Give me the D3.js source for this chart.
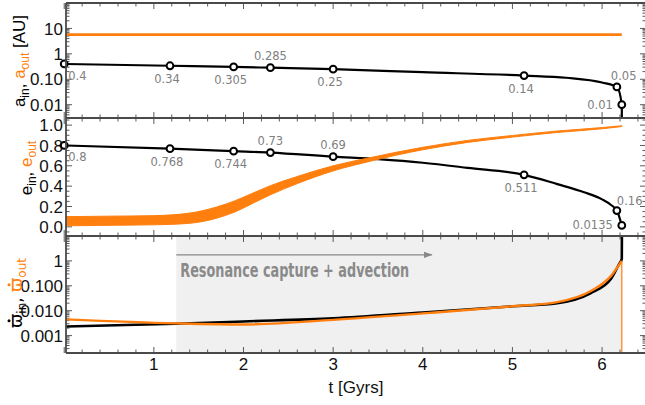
<!DOCTYPE html>
<html>
<head>
<meta charset="utf-8">
<script src="https://cdn.jsdelivr.net/npm/d3@7"></script>
<style>
  body { margin: 0; background: #fff; }
  svg { display: block; }
</style>
</head>
<body>
<div id="chart"></div>
<script>
// ---- DATA ----
// marked epochs (Gyr) and the labelled values at them
const markTimes = [0, 1.18, 1.89, 2.3, 3.0, 5.13, 6.165, 6.22];
const aInMarks = [0.4, 0.34, 0.305, 0.285, 0.25, 0.14, 0.05, 0.01];
const aInLabels = ["0.4", "0.34", "0.305", "0.285", "0.25", "0.14", "0.05", "0.01"];
const eInMarks = [0.8, 0.768, 0.744, 0.73, 0.69, 0.511, 0.16, 0.0135];
const eInLabels = ["0.8", "0.768", "0.744", "0.73", "0.69", "0.511", "0.16", "0.0135"];

// inner semi-major axis curve
const aInT = [0, 1.18, 1.89, 2.3, 3.0, 4.0, 5.13, 5.6, 6.0, 6.165, 6.22, 6.221];
const aInV = [0.4, 0.34, 0.305, 0.285, 0.25, 0.19, 0.14, 0.115, 0.075, 0.05, 0.01, 0.0005];
// outer semi-major axis (constant)
const aOutT = [0, 6.22];
const aOutV = [5.7, 5.7];

// inner eccentricity curve
const eInT = [0, 1.18, 1.89, 2.3, 3.0, 3.5, 4.0, 4.5, 5.13, 5.5, 5.8, 6.0, 6.1, 6.165, 6.22];
const eInV = [0.8, 0.768, 0.744, 0.73, 0.69, 0.665, 0.63, 0.58, 0.511, 0.42, 0.34, 0.27, 0.215, 0.16, 0.0135];
// outer eccentricity: oscillation envelope (low / high)
const eOutT = [0, 0.5, 1.0, 1.4, 1.7, 1.9, 2.1, 2.3, 2.6, 3.0, 3.4, 4.0, 4.5, 5.0, 5.5, 6.0, 6.22];
const eOutLo = [0.01, 0.015, 0.02, 0.035, 0.085, 0.145, 0.23, 0.315, 0.425, 0.55, 0.642, 0.758, 0.83, 0.882, 0.928, 0.964, 0.986];
const eOutHi = [0.1, 0.105, 0.11, 0.135, 0.195, 0.255, 0.33, 0.405, 0.495, 0.6, 0.678, 0.782, 0.85, 0.898, 0.942, 0.976, 0.994];

// precession rates
const wInT = [0, 1.25, 2.0, 3.0, 4.0, 5.0, 5.5, 5.87, 6.1, 6.19, 6.22, 6.222];
const wInV = [0.0023, 0.003, 0.0037, 0.0049, 0.0085, 0.015, 0.02, 0.05, 0.19, 0.75, 1.2, 30];
const wOutT = [0, 1.25, 2.0, 3.0, 4.0, 5.0, 5.5, 5.87, 6.1, 6.19, 6.22];
const wOutV = [0.0045, 0.0031, 0.0028, 0.0043, 0.0078, 0.015, 0.022, 0.06, 0.25, 0.7, 1.0];
const wOutDropT = [6.22, 6.22];
const wOutDropV = [1.0, 0.0001];

// resonance capture window
const captureStart = 1.25;
const captureEnd = 6.22;
const arrowEnd = 4.1;

// axis ticks
const xTicks = [1, 2, 3, 4, 5, 6];
const aTicks = [0.01, 0.1, 1, 10];
const aTickLabels = ["0.01", "0.10", "1", "10"];
const eTicks = [0, 0.2, 0.4, 0.6, 0.8, 1.0];
const eTickLabels = ["0.0", "0.2", "0.4", "0.6", "0.8", "1.0"];
const wTicks = [0.001, 0.01, 0.1, 1];
const wTickLabels = ["0.001", "0.010", "0.100", "1"];

// label placement keywords (styling, not data)
const aLabelPos = ["br", "b", "b", "t", "b", "b", "tr", "l"];
const eLabelPos = ["br", "b", "b", "t", "t", "b", "r", "l"];

// ---- LAYOUT ----
const width = 645, height = 405;
const left = 66, right = 646;
const orange = "#ff7f0e";
const frameColor = "#4a4a4a";
const tickFont = "'Liberation Sans', Arial, sans-serif";

const svg = d3.select("#chart").append("svg")
  .attr("width", width).attr("height", height)
  .attr("viewBox", `0 0 ${width} ${height}`);

const x = d3.scaleLinear().domain([0.02, 6.49]).range([left, right]);
const yA = d3.scaleLog().domain([0.003, 100]).range([118, 3]);
const yE = d3.scaleLinear().domain([-0.09, 1.07]).range([236, 118]);
const yW = d3.scaleLog().domain([0.0002, 10]).range([353, 236]);

const panels = [
  { id: "pA", y: yA, ticks: aTicks, labels: aTickLabels, log: true },
  { id: "pE", y: yE, ticks: eTicks, labels: eTickLabels, log: false },
  { id: "pW", y: yW, ticks: wTicks, labels: wTickLabels, log: true },
];

const defs = svg.append("defs");
panels.forEach((p) => {
  const [b, t] = p.y.range();
  defs.append("clipPath").attr("id", "clip_" + p.id)
    .append("rect").attr("x", left).attr("y", t).attr("width", right - left).attr("height", b - t);
});
defs.append("marker").attr("id", "arrow").attr("viewBox", "0 0 10 10")
  .attr("refX", 9).attr("refY", 5).attr("markerWidth", 7).attr("markerHeight", 7)
  .attr("orient", "auto")
  .append("path").attr("d", "M0,1.5 L10,5 L0,8.5 Z").attr("fill", "#888");

// shaded capture region (bottom panel)
svg.append("rect")
  .attr("x", x(captureStart)).attr("y", yW.range()[1])
  .attr("width", x(captureEnd) - x(captureStart))
  .attr("height", yW.range()[0] - yW.range()[1])
  .attr("fill", "#f0f0f0");

// ---- TICKS ----
const minorX = d3.range(0, 6.5, 0.2).filter((t) => Math.abs(t - Math.round(t)) > 0.01);
const tickG = svg.append("g").attr("stroke", "#5a5a5a").attr("stroke-width", 1);

panels.forEach((p) => {
  const [b, t] = p.y.range();
  // x ticks top & bottom of each panel
  d3.range(0, 7).forEach((v) => {
    tickG.append("line").attr("x1", x(v)).attr("x2", x(v)).attr("y1", t).attr("y2", t + 6);
    tickG.append("line").attr("x1", x(v)).attr("x2", x(v)).attr("y1", b).attr("y2", b - 6);
  });
  minorX.forEach((v) => {
    tickG.append("line").attr("x1", x(v)).attr("x2", x(v)).attr("y1", t).attr("y2", t + 3.5);
    tickG.append("line").attr("x1", x(v)).attr("x2", x(v)).attr("y1", b).attr("y2", b - 3.5);
  });
  // y minor ticks
  let minors = [];
  if (p.log) {
    const [lo, hi] = p.y.domain();
    for (let e = -5; e <= 2; e++) {
      for (let m = 2; m <= 9; m++) {
        const v = m * Math.pow(10, e);
        if (v > lo && v < hi) minors.push(v);
      }
    }
  } else {
    minors = d3.range(-0.05, 1.07, 0.05).filter((v) => Math.abs(v * 5 - Math.round(v * 5)) > 0.01);
  }
  minors.forEach((v) => {
    tickG.append("line").attr("x1", left).attr("x2", left + 3.5).attr("y1", p.y(v)).attr("y2", p.y(v));
    tickG.append("line").attr("x1", right).attr("x2", right - 3.5).attr("y1", p.y(v)).attr("y2", p.y(v));
  });
  p.ticks.forEach((v, i) => {
    tickG.append("line").attr("x1", left).attr("x2", left + 6).attr("y1", p.y(v)).attr("y2", p.y(v));
    tickG.append("line").attr("x1", right).attr("x2", right - 6).attr("y1", p.y(v)).attr("y2", p.y(v));
    svg.append("text")
      .attr("x", left - 3).attr("y", p.y(v)).attr("dy", "0.36em")
      .attr("text-anchor", "end")
      .attr("font-family", tickFont).attr("font-size", 17).attr("fill", "#111")
      .text(p.labels[i]);
  });
});

// x tick labels
xTicks.forEach((v) => {
  svg.append("text")
    .attr("x", x(v)).attr("y", 370).attr("text-anchor", "middle")
    .attr("font-family", tickFont).attr("font-size", 17).attr("fill", "#111")
    .text(v);
});
svg.append("text")
  .attr("x", 356).attr("y", 393).attr("text-anchor", "middle")
  .attr("font-family", tickFont).attr("font-size", 17).attr("fill", "#111")
  .text("t [Gyrs]");

// ---- ANNOTATION ----
svg.append("line")
  .attr("x1", x(captureStart)).attr("x2", x(arrowEnd))
  .attr("y1", yW(1.75)).attr("y2", yW(1.75))
  .attr("stroke", "#888").attr("stroke-width", 1.3)
  .attr("marker-end", "url(#arrow)");
svg.append("text")
  .attr("x", x(captureStart) + 4).attr("y", yW(0.23))
  .attr("font-family", "'Liberation Sans Narrow', 'Arial Narrow', 'DejaVu Sans Condensed', sans-serif")
  .attr("font-weight", "bold").attr("font-size", 19).attr("fill", "#8a8a8a")
  .attr("textLength", 229).attr("lengthAdjust", "spacingAndGlyphs")
  .text("Resonance capture + advection");

// ---- SERIES ----
const zip = (ts, vs) => ts.map((t, i) => [t, vs[i]]);

function drawLine(panelId, yScale, data, color, w) {
  svg.append("path")
    .datum(data)
    .attr("clip-path", `url(#clip_${panelId})`)
    .attr("fill", "none").attr("stroke", color).attr("stroke-width", w)
    .attr("stroke-linejoin", "round")
    .attr("d", d3.line().x((d) => x(d[0])).y((d) => yScale(d[1])).curve(d3.curveMonotoneX));
}

// top panel
drawLine("pA", yA, zip(aOutT, aOutV), orange, 2.6);
drawLine("pA", yA, zip(aInT, aInV), "#000", 2.2);

// middle panel
drawLine("pE", yE, zip(eInT, eInV), "#000", 2.2);
svg.append("path")
  .datum(eOutT.map((t, i) => ({ t, lo: eOutLo[i], hi: eOutHi[i] })))
  .attr("clip-path", "url(#clip_pE)")
  .attr("fill", orange).attr("stroke", orange).attr("stroke-width", 1)
  .attr("d", d3.area().x((d) => x(d.t)).y0((d) => yE(d.lo)).y1((d) => yE(d.hi)).curve(d3.curveMonotoneX));

// bottom panel
drawLine("pW", yW, zip(wInT, wInV), "#000", 2.6);
drawLine("pW", yW, zip(wOutT, wOutV), orange, 2.4);
drawLine("pW", yW, zip(wOutDropT, wOutDropV), orange, 1.2);

// marked points + labels
const placement = {
  br: { dx: 4, dy: 16, anchor: "start" },
  b: { dx: -3, dy: 17, anchor: "middle" },
  t: { dx: 0, dy: -8, anchor: "middle" },
  tr: { dx: -6, dy: -7, anchor: "start" },
  r: { dx: 0, dy: -6, anchor: "start" },
  l: { dx: -9, dy: 4, anchor: "end" },
};

function drawMarks(yScale, values, labels, pos) {
  const g = svg.append("g");
  g.selectAll("circle").data(values).join("circle")
    .attr("cx", (d, i) => x(markTimes[i])).attr("cy", (d) => yScale(d))
    .attr("r", 3.4).attr("fill", "#fff").attr("stroke", "#000").attr("stroke-width", 2);
  g.selectAll("text").data(labels).join("text")
    .attr("x", (d, i) => x(markTimes[i]) + placement[pos[i]].dx)
    .attr("y", (d, i) => yScale(values[i]) + placement[pos[i]].dy)
    .attr("text-anchor", (d, i) => placement[pos[i]].anchor)
    .attr("font-family", "'DejaVu Sans', Verdana, sans-serif")
    .attr("font-size", 11.5).attr("fill", "#808080")
    .text((d) => d);
}
drawMarks(yA, aInMarks, aInLabels, aLabelPos);
drawMarks(yE, eInMarks, eInLabels, eLabelPos);

// ---- FRAME ----
const frame = svg.append("g").attr("stroke", frameColor).attr("stroke-width", 1.8).attr("fill", "none");
[3, 118, 236, 353].forEach((yy) => {
  frame.append("line").attr("x1", left).attr("x2", right).attr("y1", yy).attr("y2", yy);
});
frame.append("line").attr("x1", left).attr("x2", left).attr("y1", 3).attr("y2", 353);
frame.append("line").attr("x1", right).attr("x2", right).attr("y1", 3).attr("y2", 353);

// ---- Y AXIS TITLES ----
function yTitle(cx, cy, parts, font) {
  const g = svg.append("g").attr("transform", `translate(${cx},${cy}) rotate(-90)`);
  const t = g.append("text")
    .attr("text-anchor", "middle")
    .attr("font-family", font || tickFont).attr("font-size", 17);
  let idx = 0;
  const dots = [];
  parts.forEach((p) => {
    const s = t.append("tspan").attr("fill", p.c).text(p.s);
    if (p.sub) s.attr("font-size", 12).attr("dy", 4);
    if (p.up) s.attr("dy", -4);
    if (p.dot) dots.push({ i: idx, c: p.c });
    idx += p.s.length;
  });
  // time-derivative dots above the varpi glyphs
  dots.forEach((d) => {
    const ext = t.node().getExtentOfChar(d.i);
    g.append("circle")
      .attr("cx", ext.x + ext.width / 2).attr("cy", -13)
      .attr("r", 1.5).attr("fill", d.c);
  });
}
yTitle(25, 61, [
  { s: "a", c: "#000" }, { s: "in", c: "#000", sub: true }, { s: ", ", c: "#000", up: true },
  { s: "a", c: orange }, { s: "out", c: orange, sub: true }, { s: " [AU]", c: "#000", up: true },
]);
yTitle(32, 168, [
  { s: "e", c: "#000" }, { s: "in", c: "#000", sub: true }, { s: ", ", c: "#000", up: true },
  { s: "e", c: orange }, { s: "out", c: orange, sub: true },
]);
yTitle(22, 293, [
  { s: "\u03D6", c: "#000", dot: true }, { s: "in", c: "#000", sub: true }, { s: ", ", c: "#000", up: true },
  { s: "\u03D6", c: orange, dot: true }, { s: "out", c: orange, sub: true },
], "'DejaVu Sans', sans-serif");
</script>
</body>
</html>
